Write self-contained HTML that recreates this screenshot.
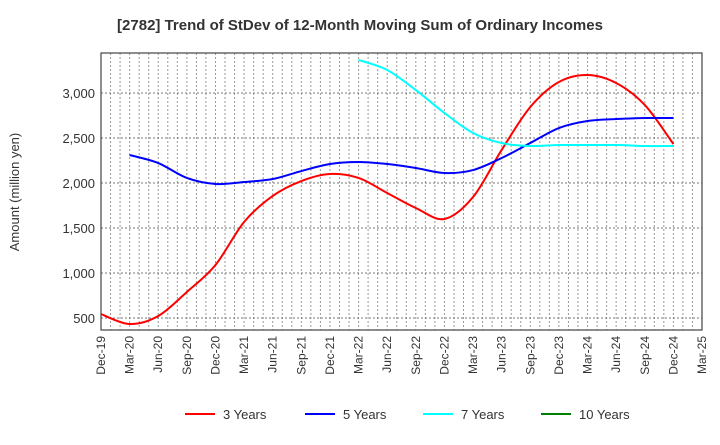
<!DOCTYPE html>
<html><head><meta charset="utf-8"><style>
body{margin:0;background:#fff}
text{font-family:"Liberation Sans",sans-serif}
</style></head><body>
<svg id="c" width="720" height="440" xmlns="http://www.w3.org/2000/svg">
<text x="360" y="30" text-anchor="middle" font-size="15" font-weight="bold" fill="#333">[2782]  Trend of StDev of 12-Month Moving Sum of Ordinary Incomes</text>
<text transform="translate(19,192) rotate(-90)" text-anchor="middle" font-size="13" fill="#333">Amount (million yen)</text>
<g id="grid"></g><g id="axes"></g><g id="series"></g><g id="legend"></g>
</svg>
<script>
const quarters=["Dec-19","Mar-20","Jun-20","Sep-20","Dec-20","Mar-21","Jun-21","Sep-21","Dec-21","Mar-22","Jun-22","Sep-22","Dec-22","Mar-23","Jun-23","Sep-23","Dec-23","Mar-24","Jun-24","Sep-24","Dec-24","Mar-25"];
const yTicks=[500,1000,1500,2000,2500,3000];
const s3=[544,433,522,789,1089,1567,1856,2022,2100,2056,1889,1722,1600,1844,2367,2844,3122,3200,3111,2867,2433];
const s5=[null,2311,2222,2056,1989,2011,2044,2133,2211,2233,2211,2167,2111,2144,2278,2444,2611,2689,2711,2722,2722];
const s7=[null,null,null,null,null,null,null,null,null,3367,3256,3033,2778,2556,2444,2411,2422,2422,2422,2411,2411];
const s10=[];
const seriesNames=["3 Years","5 Years","7 Years","10 Years"];
const colors=["#ff0000","#0000ff","#00ffff","#008000"];
const L=101,R=702,T=53,B=330;
const nMonths=63;
const xm=m=>L+(R-L)*m/nMonths;
const xq=i=>xm(i*3);
const y=v=>93+(3000-v)*0.09;
const NS="http://www.w3.org/2000/svg";
function mk(tag,attrs,parent){const e=document.createElementNS(NS,tag);for(const k in attrs)e.setAttribute(k,attrs[k]);parent.appendChild(e);return e;}
const grid=document.getElementById('grid'),axes=document.getElementById('axes'),ser=document.getElementById('series'),leg=document.getElementById('legend');
for(let m=1;m<nMonths;m++){const l=mk('line',{x1:xm(m),x2:xm(m),y1:T,y2:B,stroke:'#999','stroke-dasharray':'2,2','stroke-width':1},grid);

}
yTicks.forEach(v=>{const l=mk('line',{x1:L,x2:R,y1:y(v),y2:y(v),stroke:'#777','stroke-dasharray':'2,2','stroke-width':1},grid);


const t=mk('text',{x:L-6,y:y(v)+5,'text-anchor':'end','font-size':13,fill:'#333'},axes);t.textContent=v.toLocaleString('en-US');

});
const fr=mk('rect',{x:L,y:T,width:R-L,height:B-T,fill:'none',stroke:'#444','stroke-width':1.2},axes);


quarters.forEach((q,i)=>{const x=xq(i);const t=mk('text',{transform:`translate(${x+4},${B+6}) rotate(-90)`,'text-anchor':'end','font-size':12,fill:'#333'},axes);t.textContent=q;

});
function path(arr){const pts=[];arr.forEach((v,i)=>{if(v!=null)pts.push([xq(i),y(v)]);});if(pts.length<2)return '';
let d=`M${pts[0][0]},${pts[0][1]}`;for(let i=0;i<pts.length-1;i++){const p0=pts[Math.max(0,i-1)],p1=pts[i],p2=pts[i+1],p3=pts[Math.min(pts.length-1,i+2)];
const c1=[p1[0]+(p2[0]-p0[0])/6,p1[1]+(p2[1]-p0[1])/6],c2=[p2[0]-(p3[0]-p1[0])/6,p2[1]-(p3[1]-p1[1])/6];d+=` C${c1[0]},${c1[1]} ${c2[0]},${c2[1]} ${p2[0]},${p2[1]}`;}return d;}
[s3,s5,s7,s10].forEach((s,k)=>{const d=path(s);if(!d)return;const p=mk('path',{d,fill:'none',stroke:colors[k],'stroke-width':2},ser);

});
const lx=[185,305,423,541];
seriesNames.forEach((n,k)=>{const g=mk('g',{},leg);


mk('line',{x1:lx[k],x2:lx[k]+30,y1:414,y2:414,stroke:colors[k],'stroke-width':2},g);
const t=mk('text',{x:lx[k]+38,y:419,'font-size':13,fill:'#333'},g);t.textContent=n;});
</script>
</body></html>
